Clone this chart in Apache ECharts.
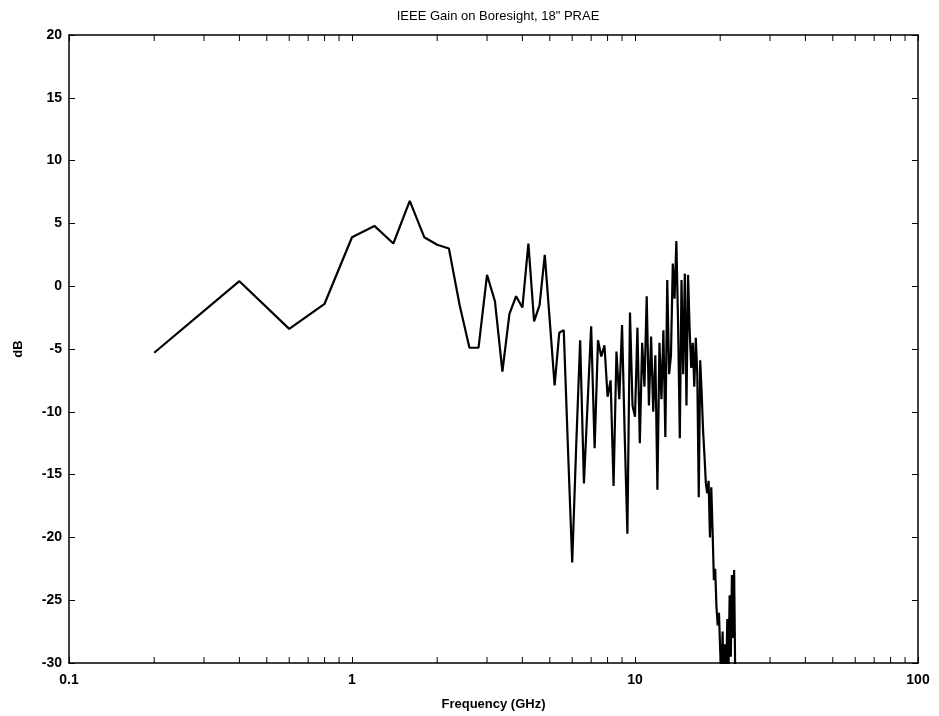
<!DOCTYPE html>
<html>
<head>
<meta charset="utf-8">
<script src="https://cdn.jsdelivr.net/npm/echarts@6/dist/echarts.min.js"></script>
<style>
html,body{margin:0;padding:0;background:#fff;}
#chart{width:939px;height:716px;}
</style>
</head>
<body>
<div id="chart"></div>
<script>
// Frequency samples (GHz)
const freqGHz = [
 0.2,0.4,0.6,0.8,1.0,1.2,1.4,1.6,1.8,2.0,
 2.2,2.4,2.6,2.8,3.0,3.2,3.4,3.6,3.8,4.0,
 4.2,4.4,4.6,4.8,5.0,5.2,5.4,5.6,5.8,6.0,
 6.2,6.4,6.6,6.8,7.0,7.2,7.4,7.6,7.8,8.0,
 8.2,8.4,8.6,8.8,9.0,9.2,9.4,9.6,9.8,10.0,
 10.2,10.4,10.6,10.8,11.0,11.2,11.4,11.6,11.8,12.0,
 12.2,12.4,12.6,12.8,13.0,13.2,13.4,13.6,13.8,14.0,
 14.2,14.4,14.6,14.8,15.0,15.2,15.4,15.6,15.8,16.0,
 16.2,16.4,16.6,16.8,17.0,17.2,17.4,17.6,17.8,18.0,
 18.2,18.4,18.6,18.8,19.0,19.2,19.4,19.6,19.8,20.0,
 20.2,20.4,20.6,20.8,21.0,21.2,21.4,21.6,21.8,22.0,
 22.2,22.4,22.6
];
// Gain on boresight (dB)
const gainDB = [
 -5.3,0.4,-3.4,-1.4,3.9,4.8,3.4,6.8,3.9,3.3,
 3.0,-1.5,-4.9,-4.9,0.9,-1.2,-6.8,-2.2,-0.8,-1.7,
 3.4,-2.8,-1.5,2.5,-2.8,-7.9,-3.7,-3.5,-13.1,-22.0,
 -12.6,-4.3,-15.7,-9.3,-3.2,-12.9,-4.3,-5.6,-4.7,-8.8,
 -7.5,-15.9,-5.2,-9.0,-3.1,-12.0,-19.7,-2.1,-9.5,-10.4,
 -3.3,-12.5,-4.5,-8.0,-0.8,-9.5,-4.0,-10.0,-5.5,-16.2,
 -4.5,-9.0,-3.5,-12.0,0.5,-7.0,-5.5,1.8,-1.0,3.6,
 -3.0,-12.1,0.5,-7.0,1.0,-9.5,0.9,-3.5,-6.5,-4.5,
 -8.0,-4.1,-7.0,-16.8,-5.9,-8.5,-11.5,-13.5,-15.7,-16.5,
 -15.5,-20.0,-16.0,-19.5,-23.4,-22.5,-25.5,-27.0,-26.0,-29.0,
 -31.0,-27.5,-33.0,-28.5,-31.0,-26.5,-30.5,-24.6,-29.5,-23.0,
 -28.0,-22.6,-31.0
];
// Axis ticks
const xMajorTicks = [0.1, 1, 10, 100];
const xMinorTicks = [0.2,0.3,0.4,0.5,0.6,0.7,0.8,0.9, 2,3,4,5,6,7,8,9, 20,30,40,50,60,70,80,90];
const yTicks = [-30,-25,-20,-15,-10,-5,0,5,10,15,20];

const Y_MIN = yTicks[0], Y_MAX = yTicks[yTicks.length-1];
const FONT = '"Liberation Sans", Arial, Helvetica, sans-serif';

const chart = echarts.init(document.getElementById('chart'), null, {renderer:'canvas'});
const lineData = freqGHz.map((f,i)=>[f, gainDB[i]]);

const option = {
  backgroundColor:'#fff',
  animation:false,
  title:{
    text:'IEEE Gain on Boresight, 18" PRAE',
    left: 493, top: 5, textAlign:'center',
    textStyle:{fontFamily:FONT, fontSize:13, fontWeight:'normal', color:'#000'}
  },
  grid:{left:69, right:21, top:35, bottom:53, containLabel:false},
  xAxis:[{
    type:'log', logBase:10, min:xMajorTicks[0], max:xMajorTicks[xMajorTicks.length-1],
    name:'Frequency (GHz)', nameLocation:'middle', nameGap:35,
    nameTextStyle:{fontFamily:FONT, fontSize:13, fontWeight:'bold', color:'#000'},
    axisLine:{show:true, onZero:false, lineStyle:{color:'#000', width:1.5}},
    axisTick:{show:true, inside:true, length:6, lineStyle:{color:'#000', width:1}},
    axisLabel:{fontFamily:FONT, fontSize:14, fontWeight:'bold', color:'#000', margin:10,
      formatter:(v)=>String(v)},
    splitLine:{show:false}
  },{
    type:'log', logBase:10, min:xMajorTicks[0], max:xMajorTicks[xMajorTicks.length-1],
    position:'top',
    axisLine:{show:true, onZero:false, lineStyle:{color:'#000', width:1.5}},
    axisTick:{show:true, inside:true, length:6, lineStyle:{color:'#000', width:1}},
    axisLabel:{show:false}, splitLine:{show:false}
  }],
  yAxis:[{
    type:'value', min:Y_MIN, max:Y_MAX, interval:5,
    name:'dB', nameLocation:'middle', nameGap:44,
    nameTextStyle:{fontFamily:FONT, fontSize:13, fontWeight:'bold', color:'#000'},
    axisLine:{show:true, onZero:false, lineStyle:{color:'#000', width:1.5}},
    axisTick:{show:true, inside:true, length:6, lineStyle:{color:'#000', width:1}},
    axisLabel:{fontFamily:FONT, fontSize:14, fontWeight:'bold', color:'#000', margin:7},
    splitLine:{show:false}
  },{
    type:'value', min:Y_MIN, max:Y_MAX, interval:5, position:'right',
    axisLine:{show:true, onZero:false, lineStyle:{color:'#000', width:1.5}},
    axisTick:{show:true, inside:true, length:6, lineStyle:{color:'#000', width:1}},
    axisLabel:{show:false}, splitLine:{show:false}
  }],
  series:[{
    type:'line',
    data: lineData,
    xAxisIndex:0, yAxisIndex:0,
    showSymbol:false, symbol:'none',
    clip:true,
    lineStyle:{color:'#000', width:2.2},
    z:3
  },{
    type:'custom',
    xAxisIndex:0, yAxisIndex:0,
    silent:true,
    clip:false,
    data: xMinorTicks.map(v=>[v, Y_MIN]),
    encode:{x:0, y:1},
    renderItem:(params, api)=>{
      const pb = api.coord([api.value(0), Y_MIN]);
      const pt = api.coord([api.value(0), Y_MAX]);
      return {type:'group', children:[
        {type:'line', shape:{x1:pb[0], y1:pb[1], x2:pb[0], y2:pb[1]-6}, style:{stroke:'#000', lineWidth:1}},
        {type:'line', shape:{x1:pt[0], y1:pt[1], x2:pt[0], y2:pt[1]+6}, style:{stroke:'#000', lineWidth:1}}
      ]};
    },
    z:2
  }]
};
chart.setOption(option);
</script>
</body>
</html>
